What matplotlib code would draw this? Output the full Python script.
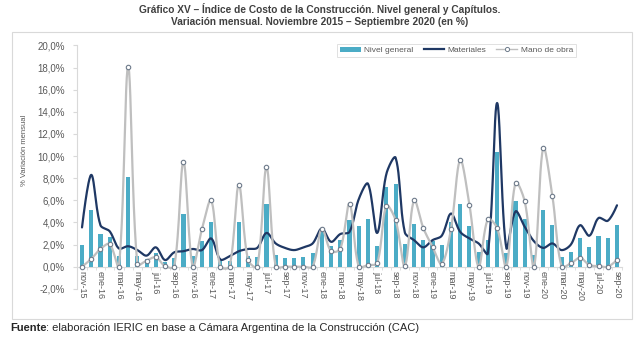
import numpy as np
import matplotlib
matplotlib.use('Agg')
import matplotlib.pyplot as plt
from matplotlib.patches import Rectangle, Patch
from matplotlib.lines import Line2D

plt.rcParams['font.family'] = ['Liberation Sans', 'DejaVu Sans']

tick_labels = ['nov-15', 'ene-16', 'mar-16', 'may-16', 'jul-16', 'sep-16', 'nov-16',
               'ene-17', 'mar-17', 'may-17', 'jul-17', 'sep-17', 'nov-17',
               'ene-18', 'mar-18', 'may-18', 'jul-18', 'sep-18', 'nov-18',
               'ene-19', 'mar-19', 'may-19', 'jul-19', 'sep-19', 'nov-19',
               'ene-20', 'mar-20', 'may-20', 'jul-20', 'sep-20']

nivel_general = [2.0, 5.1, 2.95, 2.7, 1.0, 8.1, 1.0, 0.7, 1.2, 0.4, 0.75, 4.8,
                 0.95, 2.3, 4.05, 0.55, 0.55, 4.05, 1.0, 0.9, 5.7, 1.05, 0.8, 0.8,
                 0.9, 1.2, 3.45, 1.85, 2.4, 4.2, 3.65, 4.35, 1.85, 7.2, 7.5, 2.05,
                 3.9, 2.4, 2.35, 1.95, 4.0, 5.65, 3.65, 1.3, 2.4, 10.35, 1.2, 5.95,
                 4.3, 1.05, 5.1, 3.8, 0.85, 1.3, 2.6, 1.75, 2.75, 2.6, 3.8]

materiales = [3.55, 8.3, 3.75, 3.2, 1.65, 1.85, 1.5, 1.0, 1.75, 0.6, 1.3, 1.4,
              1.6, 1.5, 2.55, 0.65, 0.95, 1.4, 1.6, 1.7, 3.05, 2.1, 1.7, 1.5,
              1.75, 2.1, 3.45, 2.25, 2.95, 3.15, 6.1, 7.5, 3.05, 8.4, 9.85, 3.1,
              2.4, 1.75, 2.4, 2.8, 4.8, 3.15, 2.55, 2.1, 1.2, 14.8, 1.7, 5.0,
              3.6, 2.3, 1.7, 2.1, 1.5, 2.0, 3.75, 2.8, 4.4, 4.15, 5.55]

mano_de_obra = [0.0, 0.7, 1.6, 2.05, 0.0, 18.1, 0.2, 0.55, 0.85, 0.05, 0.0, 9.5,
                0.0, 3.4, 6.0, 0.0, 0.0, 7.4, 0.6, 0.0, 9.0, 0.0, 0.0, 0.0,
                0.0, 0.0, 3.45, 1.4, 1.6, 5.7, 0.0, 0.15, 0.3, 5.5, 4.2, 0.05,
                6.0, 3.5, 1.8, 0.25, 3.4, 9.65, 5.6, 0.0, 4.3, 3.5, 0.0, 7.6,
                5.9, 0.0, 10.75, 6.35, 0.0, 0.3, 0.8, 0.15, 0.05, 0.0, 0.6]

C_BAR = '#4BACC6'
C_MAT = '#1F3864'
C_MO = '#BFBFBF'
C_TXT = '#595959'
C_GRID = '#D9D9D9'

# pixel scale per unit (x: month, y: percent) used for the smoothing geometry
SX, SY = 9.22, 11.07


def smooth(y, n=24, tens=1.0 / 3.0):
    y = np.asarray(y, float)
    x = np.arange(len(y), dtype=float)
    P = np.column_stack([x * SX, y * SY])
    N = len(P)
    L = P.copy()
    R = P.copy()
    for i in range(1, N - 1):
        d01 = np.hypot(*(P[i] - P[i - 1]))
        d12 = np.hypot(*(P[i + 1] - P[i]))
        v = P[i + 1] - P[i - 1]
        s = d01 + d12
        if s > 0:
            L[i] = P[i] - v * tens * d01 / s
            R[i] = P[i] + v * tens * d12 / s
    t = np.linspace(0, 1, n, endpoint=False)[:, None]
    out = []
    for i in range(N - 1):
        p1, c1, c2, p2 = P[i], R[i], L[i + 1], P[i + 1]
        b = ((1 - t) ** 3) * p1 + 3 * ((1 - t) ** 2) * t * c1 + 3 * (1 - t) * t ** 2 * c2 + t ** 3 * p2
        out.append(b)
    out.append(P[-1][None, :])
    out = np.vstack(out)
    return out[:, 0] / SX, out[:, 1] / SY


fig = plt.figure(figsize=(6.4, 3.38), dpi=100)
W, H = 640.0, 338.0

fig.add_artist(Rectangle((12 / W, 1 - 319 / H), 620 / W, 287 / H, transform=fig.transFigure,
                         fill=False, ec=C_GRID, lw=0.8))

ax = fig.add_axes([77.4 / W, 1 - 288.8 / H, (621.6 - 77.4) / W, (288.8 - 45.5) / H])
x = np.arange(len(nivel_general))

ax.bar(x, nivel_general, width=0.45, color=C_BAR, zorder=2)
mx, my = smooth(materiales)
ax.plot(mx, my, color=C_MAT, lw=1.6, zorder=3, solid_capstyle='round')
ox, oy = smooth(mano_de_obra)
ax.plot(ox, oy, color=C_MO, lw=1.6, zorder=4, solid_capstyle='round')
ax.plot(x, mano_de_obra, ls='none', marker='o', ms=3.2, mfc='white', mec='#6E7B8B', mew=0.8, zorder=5)

ax.set_xlim(-0.5, len(x) - 0.5)
ax.set_ylim(-2, 20)
yt = np.arange(-2, 20.1, 2)
ax.set_yticks(yt)
ax.set_yticklabels([('%.1f%%' % v).replace('.', ',') for v in yt])

ax.spines['top'].set_visible(False)
ax.spines['right'].set_visible(False)
ax.spines['left'].set_color(C_GRID)
ax.spines['bottom'].set_color(C_GRID)
ax.spines['bottom'].set_position(('data', 0))
ax.spines['bottom'].set_zorder(1)

ax.set_xticks(x[::2])
ax.set_xticklabels(tick_labels, rotation=-90, fontsize=6.5, color=C_TXT)
ax.set_xticks(np.arange(-0.5, len(x), 1), minor=True)
ax.tick_params(axis='x', which='major', length=0, pad=3)
ax.tick_params(axis='x', which='minor', length=2.5, color=C_GRID)
ax.tick_params(axis='y', length=3, color=C_GRID, labelsize=7, labelcolor=C_TXT, pad=6)

fig.text(25 / W, 1 - 150 / H, '% Variación mensual', rotation=90, fontsize=5.5,
         color=C_TXT, ha='center', va='center')

fig.text(0.5, 1 - 9 / H, 'Gráfico XV – Índice de Costo de la Construcción. Nivel general y Capítulos.',
         fontsize=7.3, fontweight='bold', color='#404040', ha='center', va='center')
fig.text(0.5, 1 - 22 / H, 'Variación mensual. Noviembre 2015 – Septiembre 2020 (en %)',
         fontsize=7.3, fontweight='bold', color='#404040', ha='center', va='center')

t1 = fig.text(10 / W, 1 - 328 / H, 'Fuente', fontsize=8, fontweight='bold', color='#262626',
              ha='left', va='center')
fig.canvas.draw()
bb = t1.get_window_extent()
fig.text(bb.x1 / W, 1 - 328 / H, ': elaboración IERIC en base a Cámara Argentina de la Construcción (CAC)',
         fontsize=8, color='#262626', ha='left', va='center')

handles = [Patch(facecolor=C_BAR, edgecolor='none'),
           Line2D([], [], color=C_MAT, lw=1.6),
           Line2D([], [], color=C_MO, lw=1.0, marker='o', ms=3, mfc='white', mec='#6E7B8B', mew=0.7)]
leg = fig.legend(handles, ['Nivel general', 'Materiales', 'Mano de obra'], ncol=3,
                 loc='center', bbox_to_anchor=(456.5 / W, 1 - 50.5 / H), fontsize=6,
                 frameon=True, fancybox=False, edgecolor=C_GRID, handlelength=2.5,
                 handleheight=0.6, columnspacing=1.2, borderpad=0.35, handletextpad=0.4,
                 labelcolor=C_TXT)
leg.get_frame().set_linewidth(0.7)

fig.savefig('out.png', dpi=100)
